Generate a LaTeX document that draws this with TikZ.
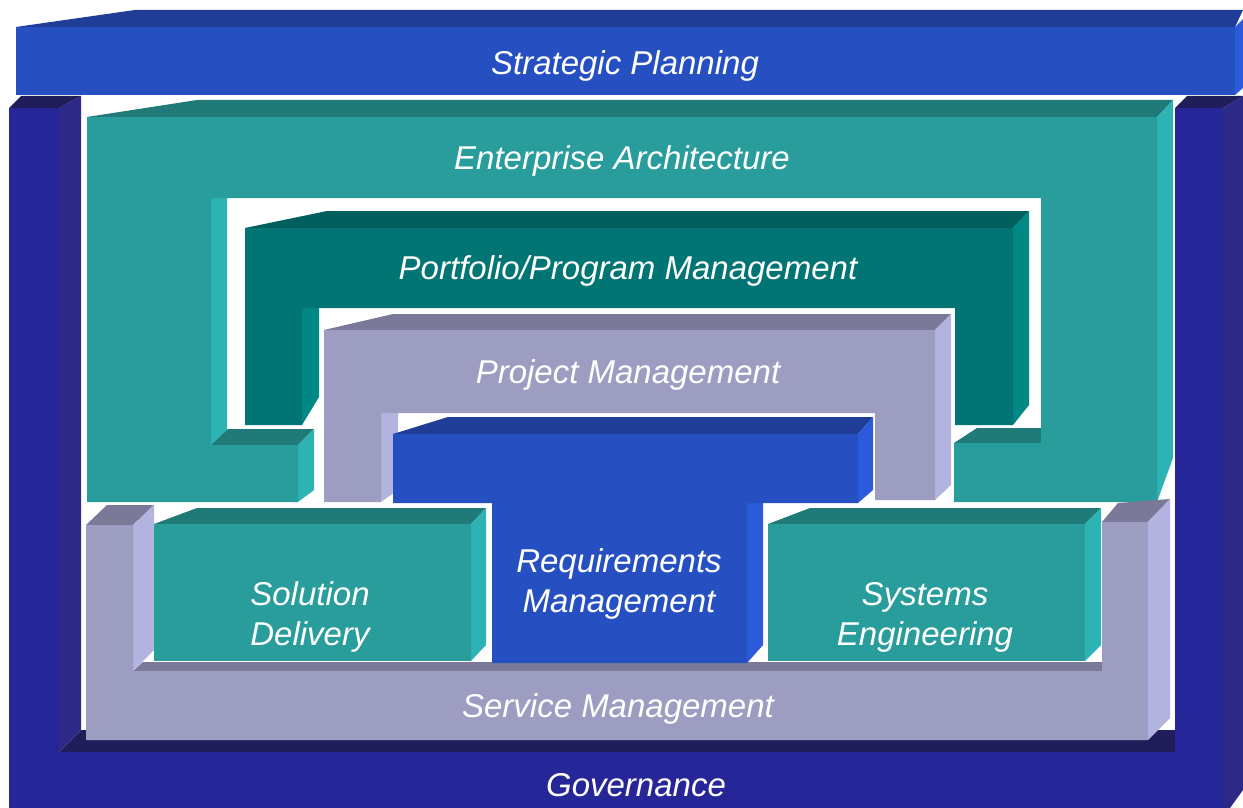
\documentclass[tikz,border=0pt]{standalone}
\usepackage{fontspec}
\setmainfont{Liberation Sans}

\definecolor{govfront}{HTML}{262699}
\definecolor{govtop}{HTML}{1F1D5A}
\definecolor{govside}{HTML}{2D2A87}
\definecolor{bluefront}{HTML}{2650C2}
\definecolor{bluetop}{HTML}{1F3C96}
\definecolor{blueside}{HTML}{2B5ADB}
\definecolor{tealfront}{HTML}{289D9B}
\definecolor{tealtop}{HTML}{1F7A78}
\definecolor{tealside}{HTML}{2DB3B3}
\definecolor{darkfront}{HTML}{007573}
\definecolor{darktop}{HTML}{005E5C}
\definecolor{darkside}{HTML}{008885}
\definecolor{lavfront}{HTML}{9D9DC2}
\definecolor{lavtop}{HTML}{7A7A98}
\definecolor{lavside}{HTML}{B3B3E0}

\begin{document}
\begin{tikzpicture}[x=1pt,y=-1pt]
\tikzstyle{blocklabel} = [text=white, font=\fontsize{33}{40}\selectfont\itshape, align=center]
\useasboundingbox (0,0) rectangle (1243,808);

% Governance
\fill[govtop] (9,108) -- (21,96) -- (81,96) -- (59,108) -- cycle;
\fill[govtop] (1175,108) -- (1187,96) -- (1243,96) -- (1223,108) -- cycle;
\fill[govtop] (59,752) -- (81,730) -- (1175,730) -- (1175,752) -- cycle;
\fill[govside] (59,108) -- (81,96) -- (81,730) -- (59,752) -- cycle;
\fill[govside] (1223,108) -- (1243,96) -- (1243,790) -- (1230,808) -- (1223,808) -- cycle;
\fill[govfront] (9,108) -- (59,108) -- (59,752) -- (1175,752) -- (1175,108)
    -- (1223,108) -- (1223,808) -- (9,808) -- cycle;

% Strategic Planning
\fill[bluetop] (16,27) -- (135,10) -- (1243,10) -- (1235,27) -- cycle;
\fill[blueside] (1235,27) -- (1243,19) -- (1243,88) -- (1235,95) -- cycle;
\fill[bluefront] (16,27) rectangle (1235,95);

% Enterprise Architecture
\fill[tealtop] (87,117) -- (197,100) -- (1173,100) -- (1157,117) -- cycle;
\fill[tealside] (1157,117) -- (1173,100) -- (1173,458) -- (1157,502) -- cycle;
\fill[tealside] (211,198) -- (227,198) -- (227,430) -- (211,445) -- cycle;
\fill[tealtop] (211,445) -- (228,429) -- (314,429) -- (298,445) -- cycle;
\fill[tealside] (298,445) -- (314,429) -- (314,490) -- (298,502) -- cycle;
\fill[tealtop] (954,443) -- (977,428) -- (1041,428) -- (1041,443) -- cycle;
\fill[tealfront] (87,117) -- (1157,117) -- (1157,502) -- (954,502) -- (954,443)
    -- (1041,443) -- (1041,198) -- (211,198) -- (211,445) -- (298,445)
    -- (298,502) -- (87,502) -- cycle;

% Portfolio/Program Management
\fill[darktop] (245,228) -- (327,211) -- (1029,211) -- (1013,228) -- cycle;
\fill[darkside] (1013,228) -- (1029,211) -- (1029,405) -- (1013,425) -- cycle;
\fill[darkside] (302,308) -- (319,308) -- (319,397) -- (302,425) -- cycle;
\fill[darkfront] (245,228) -- (1013,228) -- (1013,425) -- (955,425) -- (955,308)
    -- (302,308) -- (302,425) -- (245,425) -- cycle;

% Project Management
\fill[lavtop] (324,330) -- (393,314) -- (951,314) -- (935,330) -- cycle;
\fill[lavside] (935,330) -- (951,314) -- (951,485) -- (935,500) -- cycle;
\fill[lavside] (381,413) -- (398,413) -- (398,490) -- (381,502) -- cycle;
\fill[lavfront] (324,330) -- (935,330) -- (935,500) -- (875,500) -- (875,413)
    -- (381,413) -- (381,502) -- (324,502) -- cycle;

% Service Management
\fill[lavtop] (86,525) -- (107,505) -- (154,505) -- (133,525) -- cycle;
\fill[lavtop] (1102,522) -- (1118,503) -- (1170,499) -- (1148,522) -- cycle;
\fill[lavtop] (133,671) -- (143,662) -- (1102,662) -- (1102,671) -- cycle;
\fill[lavside] (133,525) -- (154,505) -- (154,650) -- (133,671) -- cycle;
\fill[lavside] (1148,522) -- (1170,499) -- (1170,718) -- (1148,740) -- cycle;
\fill[lavfront] (86,525) -- (133,525) -- (133,671) -- (1102,671) -- (1102,522)
    -- (1148,522) -- (1148,740) -- (86,740) -- cycle;

% Requirements Management
\fill[bluetop] (393,434) -- (448,417) -- (873,417) -- (858,434) -- cycle;
\fill[blueside] (858,434) -- (873,417) -- (873,490) -- (858,503) -- cycle;
\fill[blueside] (747,503) -- (763,503) -- (763,645) -- (747,663) -- cycle;
\fill[bluefront] (393,434) -- (858,434) -- (858,503) -- (747,503) -- (747,663)
    -- (492,663) -- (492,503) -- (393,503) -- cycle;

% Solution Delivery
\fill[tealtop] (154,524) -- (197,508) -- (486,508) -- (471,524) -- cycle;
\fill[tealside] (471,524) -- (486,508) -- (486,645) -- (471,661) -- cycle;
\fill[tealfront] (154,524) rectangle (471,661);

% Systems Engineering
\fill[tealtop] (768,524) -- (810,508) -- (1101,508) -- (1085,524) -- cycle;
\fill[tealside] (1085,524) -- (1101,508) -- (1101,645) -- (1085,661) -- cycle;
\fill[tealfront] (768,524) rectangle (1085,661);

% labels
\node[blocklabel] (strat) at (625,66) {Strategic Planning};
\node[blocklabel] (ent) at (622,161) {Enterprise Architecture};
\node[blocklabel] (port) at (628,271) {Portfolio/Program Management};
\node[blocklabel] (proj) at (628,375) {Project Management};
\node[blocklabel] (req) at (619,584) {Requirements\\Management};
\node[blocklabel] (sol) at (310,617) {Solution\\Delivery};
\node[blocklabel] (sys) at (925,617) {Systems\\Engineering};
\node[blocklabel] (serv) at (618,709) {Service Management};
\node[blocklabel] (gov) at (636,785) {Governance};
\end{tikzpicture}
\end{document}
